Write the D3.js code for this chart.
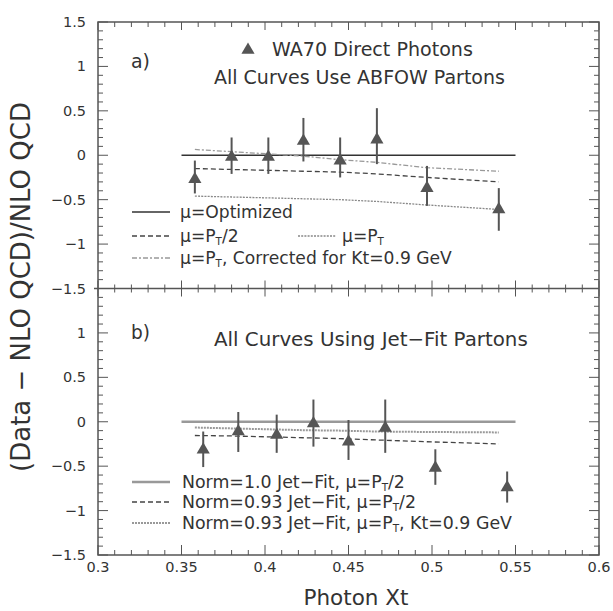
<!DOCTYPE html>
<html>
<head>
<meta charset="utf-8">
<script src="https://cdn.jsdelivr.net/npm/d3@7"></script>
<style>
  body { margin: 0; background: #fff; }
  text { font-family: "DejaVu Sans", sans-serif; fill: #333; }
</style>
</head>
<body>
<svg id="chart" width="613" height="611"></svg>
<script>
/// Data
var xTicks = [0.3, 0.35, 0.4, 0.45, 0.5, 0.55, 0.6]
var yTicksTop = [1.5, 1, 0.5, 0, -0.5, -1, -1.5]
var yTicksBot = [1, 0.5, 0, -0.5, -1, -1.5]

/// panel a) WA70 points
var aX = [0.358, 0.380, 0.402, 0.423, 0.445, 0.467, 0.497, 0.540]
var aY = [-0.27, -0.02, -0.02, 0.16, -0.06, 0.175, -0.37, -0.61]
var aHi = [-0.06, 0.20, 0.20, 0.42, 0.20, 0.53, -0.12, -0.37]
var aLo = [-0.43, -0.21, -0.21, -0.07, -0.25, -0.10, -0.57, -0.85]

/// panel b) WA70 points
var bX = [0.363, 0.384, 0.407, 0.429, 0.450, 0.472, 0.502, 0.545]
var bY = [-0.315, -0.11, -0.15, -0.02, -0.225, -0.07, -0.52, -0.74]
var bHi = [-0.11, 0.11, 0.08, 0.25, 0.02, 0.25, -0.31, -0.56]
var bLo = [-0.51, -0.34, -0.35, -0.28, -0.43, -0.35, -0.71, -0.91]

/// theory curves (same x grid for both panels)
var curveX = [0.358, 0.380, 0.402, 0.423, 0.445, 0.467, 0.497, 0.540]
var optX = [0.35, 0.55]
var optY = [0, 0]
var aHalf = [-0.15, -0.16, -0.17, -0.18, -0.19, -0.21, -0.25, -0.30]
var aPt = [-0.46, -0.47, -0.48, -0.49, -0.50, -0.52, -0.56, -0.61]
var aKt = [0.065, 0.04, 0.015, -0.01, -0.05, -0.08, -0.14, -0.18]
var bHalf = [-0.155, -0.16, -0.17, -0.18, -0.19, -0.205, -0.225, -0.25]
var bKt = [-0.065, -0.075, -0.085, -0.095, -0.10, -0.11, -0.115, -0.12]

var svg = d3.select("#chart")

var x = d3.scaleLinear().domain([0.3, 0.6]).range([98, 599])
var yA = d3.scaleLinear().domain([-1.5, 1.5]).range([288.5, 22])
var yB = d3.scaleLinear().domain([-1.5, 1.5]).range([555, 288.5])

var frameCol = "#555"

/// Scales the font of a text so that it spans the wanted width.
function fit(sel, width) {
    var base = 16
    sel.attr("font-size", base)
    var len = sel.node().getComputedTextLength()
    sel.attr("font-size", base * width / len)
    return sel
}

/// frame
svg.append("rect")
    .attr("x", x(0.3)).attr("y", yA(1.5))
    .attr("width", x(0.6) - x(0.3)).attr("height", yB(-1.5) - yA(1.5))
    .attr("fill", "none").attr("stroke", frameCol).attr("stroke-width", 1.5)
svg.append("line")
    .attr("x1", x(0.3) - 4).attr("x2", x(0.6))
    .attr("y1", yA(-1.5)).attr("y2", yA(-1.5))
    .attr("stroke", frameCol).attr("stroke-width", 1.5)

/// tick marks: inward on every edge, crossing on the middle line
function xTickMarks(y0, dirs, major, minor) {
    var minorVals = d3.range(30, 61).map(d => d / 100)
    minorVals.forEach(function(v) {
        var isMajor = Math.abs(v * 20 - Math.round(v * 20)) < 1e-6
        var len = isMajor ? major : minor
        dirs.forEach(function(dir) {
            svg.append("line")
                .attr("x1", x(v)).attr("x2", x(v))
                .attr("y1", y0).attr("y2", y0 + dir * len)
                .attr("stroke", frameCol).attr("stroke-width", 1)
        })
    })
}
xTickMarks(yA(1.5), [1], 8, 5)
xTickMarks(yA(-1.5), [1, -1], 8, 4)
xTickMarks(yB(-1.5), [-1], 10, 5)

function yTickMarks(scale) {
    d3.range(-15, 16).forEach(function(i) {
        var v = i / 10
        var len = (i % 5 == 0) ? 10 : 5
        svg.append("line")
            .attr("x1", x(0.3)).attr("x2", x(0.3) + len)
            .attr("y1", scale(v)).attr("y2", scale(v))
            .attr("stroke", frameCol).attr("stroke-width", 1)
        svg.append("line")
            .attr("x1", x(0.6)).attr("x2", x(0.6) - len)
            .attr("y1", scale(v)).attr("y2", scale(v))
            .attr("stroke", frameCol).attr("stroke-width", 1)
    })
}
yTickMarks(yA)
yTickMarks(yB)

/// tick labels
function fmt(v) { return d3.format("")(v).replace("-", "\u2212") }

svg.selectAll(".xl").data(xTicks).enter().append("text")
    .attr("x", d => x(d)).attr("y", 572)
    .attr("text-anchor", "middle").attr("font-size", 14.5)
    .text(d => d)
svg.selectAll(".yla").data(yTicksTop).enter().append("text")
    .attr("x", 86).attr("y", d => yA(d) + 5)
    .attr("text-anchor", "end").attr("font-size", 14.5)
    .text(fmt)
svg.selectAll(".ylb").data(yTicksBot).enter().append("text")
    .attr("x", 86).attr("y", d => yB(d) + 5)
    .attr("text-anchor", "end").attr("font-size", 14.5)
    .text(fmt)

/// axis titles
svg.append("text")
    .attr("x", 356).attr("y", 605)
    .attr("text-anchor", "middle").attr("font-size", 21.5)
    .text("Photon Xt")
fit(svg.append("text")
    .attr("transform", "translate(30,287) rotate(-90)")
    .attr("text-anchor", "middle").attr("fill", "#444")
    .text("(Data \u2212 NLO QCD)/NLO QCD"), 370)

/// curves
function curve(xs, ys, scale, col, width, dash) {
    var line = d3.line().x(d => x(d[0])).y(d => scale(d[1]))
    svg.append("path")
        .datum(d3.zip(xs, ys))
        .attr("d", line)
        .attr("fill", "none").attr("stroke", col)
        .attr("stroke-width", width)
        .attr("stroke-dasharray", dash)
}

var styles = {
    optA: ["#333", 1.5, null],
    half: ["#444", 1.3, "5,3"],
    pt: ["#888", 1.3, "2,1.2"],
    kt: ["#999", 1.3, "5,2,2,2"],
    optB: ["#999", 2.5, null],
    ktB: ["#999", 2, "2,1"]
}

curve(optX, optY, yA, ...styles.optA)
curve(curveX, aHalf, yA, ...styles.half)
curve(curveX, aPt, yA, ...styles.pt)
curve(curveX, aKt, yA, ...styles.kt)

curve(optX, optY, yB, ...styles.optB)
curve(curveX, bHalf, yB, ...styles.half)
curve(curveX, bKt, yB, ...styles.ktB)

/// data points with error bars
function points(xs, ys, hi, lo, scale) {
    var g = svg.append("g")
    xs.forEach(function(v, i) {
        g.append("line")
            .attr("x1", x(v)).attr("x2", x(v))
            .attr("y1", scale(hi[i])).attr("y2", scale(lo[i]))
            .attr("stroke", "#555").attr("stroke-width", 2)
        g.append("path")
            .attr("d", d3.symbol().type(d3.symbolTriangle).size(75)())
            .attr("transform", "translate(" + x(v) + "," + scale(ys[i]) + ")")
            .attr("fill", "#555")
    })
}
points(aX, aY, aHi, aLo, yA)
points(bX, bY, bHi, bLo, yB)

/// panel labels and titles
function label(tx, ty, txt) {
    return svg.append("text").attr("x", tx).attr("y", ty).text(txt)
}
fit(label(131, 68, "a)"), 19)
fit(label(131, 339, "b)"), 19)

svg.append("path")
    .attr("d", d3.symbol().type(d3.symbolTriangle).size(75)())
    .attr("transform", "translate(248,50)")
    .attr("fill", "#555")
fit(label(272, 56, "WA70 Direct Photons"), 201)
fit(label(214, 84, "All Curves Use ABFOW Partons"), 291)
fit(label(214, 346, "All Curves Using Jet\u2212Fit Partons"), 314)

/// legends; a part given as {s: "T"} is a subscript
function legendRow(lx, ly, tx, style, parts) {
    svg.append("line")
        .attr("x1", lx).attr("x2", lx + 38)
        .attr("y1", ly).attr("y2", ly)
        .attr("stroke", style[0]).attr("stroke-width", style[1])
        .attr("stroke-dasharray", style[2])
    var t = svg.append("text").attr("x", tx).attr("y", ly + 6)
    var lowered = false
    parts.forEach(function(p) {
        if (typeof p == "object") {
            t.append("tspan").attr("font-size", "0.6em").attr("dy", "0.3em").text(p.s)
            lowered = true
        } else {
            var ts = t.append("tspan").text(p)
            if (lowered) ts.attr("dy", "-0.18em")
            lowered = false
        }
    })
    return t
}

var topRows = [
    legendRow(132, 212, 180, styles.optA, ["\u03bc=Optimized"]),
    legendRow(132, 236, 180, styles.half, ["\u03bc=P", {s: "T"}, "/2"]),
    legendRow(298, 236, 342, styles.pt, ["\u03bc=P", {s: "T"}]),
    legendRow(132, 258, 180, styles.kt, ["\u03bc=P", {s: "T"}, ", Corrected for Kt=0.9 GeV"])
]
fit(topRows[3], 272)
topRows.forEach(t => t.attr("font-size", topRows[3].attr("font-size")))

var botRows = [
    legendRow(132, 482, 182, styles.optB, ["Norm=1.0 Jet\u2212Fit, \u03bc=P", {s: "T"}, "/2"]),
    legendRow(132, 502, 182, styles.half, ["Norm=0.93 Jet\u2212Fit, \u03bc=P", {s: "T"}, "/2"]),
    legendRow(132, 523, 182, styles.ktB, ["Norm=0.93 Jet\u2212Fit, \u03bc=P", {s: "T"}, ", Kt=0.9 GeV"])
]
fit(botRows[2], 330)
botRows.forEach(t => t.attr("font-size", botRows[2].attr("font-size")))
</script>
</body>
</html>
